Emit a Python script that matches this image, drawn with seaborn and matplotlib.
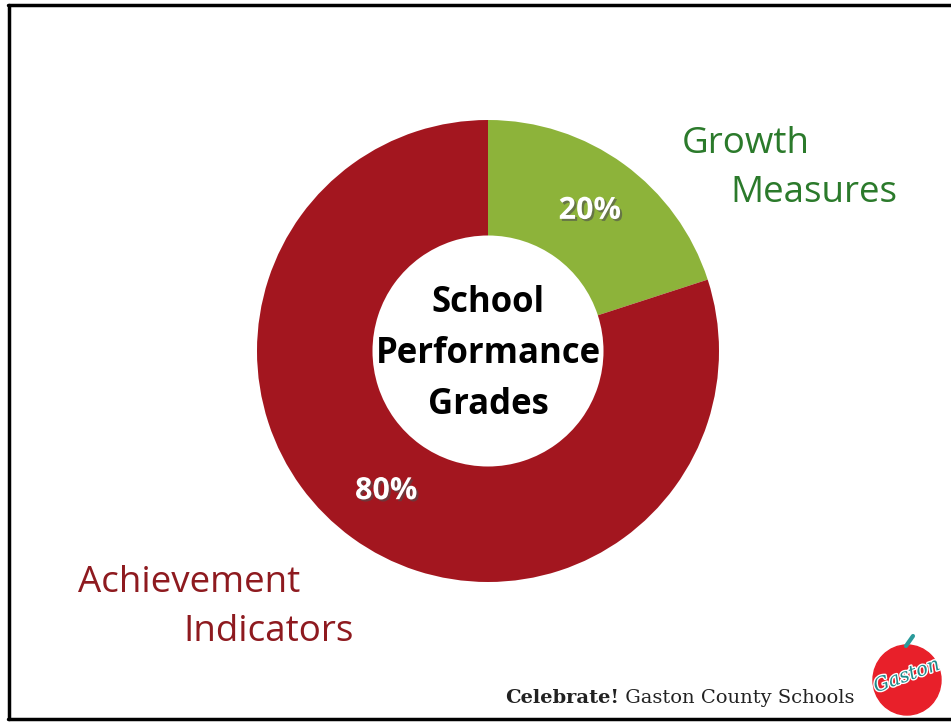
import matplotlib
matplotlib.use("Agg")
import matplotlib.pyplot as plt
import matplotlib.patheffects as pe
from matplotlib.patches import Ellipse
import seaborn as sns

# the data
categories   = ["Growth Measures", "Achievement Indicators"]
shares       = [20, 80]
center_lines = ["School", "Performance", "Grades"]
footer_bold  = "Celebrate!"
footer_rest  = " Gaston County Schools"

red   = "#A3161F"
green = "#8DB33A"
sns.set_theme(style="white")
palette = sns.color_palette([green, red])

plt.rcParams["font.family"] = ["Open Sans", "DejaVu Sans"]

W, H = 951, 723
fig = plt.figure(figsize=(W / 100, H / 100), dpi=100)
ax = fig.add_axes([0, 0, 1, 1])

# donut, drawn clockwise from 12 o'clock
cx, cy, r = 488, H - 351, 231
wedges, texts, pcts = ax.pie(
    shares,
    colors=palette,
    startangle=90,
    counterclock=False,
    center=(cx, cy),
    radius=r,
    autopct=lambda p: f"{p:.0f}%",
    pctdistance=0.75,
    wedgeprops=dict(width=r * 0.5, linewidth=0),
    textprops=dict(color="white", fontsize=22, fontweight="bold"),
    frame=True,
)
ax.set_xlim(0, W)
ax.set_ylim(0, H)
ax.set_aspect("equal")
ax.axis("off")
for t in pcts:
    t.set_path_effects([pe.withSimplePatchShadow(offset=(1.5, -1.5), alpha=0.6)])

# title in the hole, one line at a time
for i, line in enumerate(center_lines):
    ax.text(cx, H - 312 - 51 * (i - 0), line, ha="center", va="baseline",
            fontsize=25, fontweight="bold", color="black")

# category labels
ax.text(682, H - 153, "Growth", fontsize=26.5, color="#2B7A2B", ha="left", va="baseline")
ax.text(730, H - 202, "Measures", fontsize=26.5, color="#2B7A2B", ha="left", va="baseline")
ax.text(78, H - 592, "Achievement", fontsize=26.5, color="#8E1A1F", ha="left", va="baseline")
ax.text(183, H - 641, "Indicators", fontsize=26.5, color="#8E1A1F", ha="left", va="baseline")

# footer
ft = ax.text(505, H - 703, footer_bold, fontsize=14, fontweight="bold",
             family="DejaVu Serif", color="#222222", ha="left", va="baseline")
fig.canvas.draw()
bb = ft.get_window_extent().transformed(ax.transData.inverted())
ax.text(bb.x1, H - 703, footer_rest, fontsize=14, family="DejaVu Serif",
        color="#222222", ha="left", va="baseline")

# apple logo
ax.add_patch(Ellipse((907, H - 680), 68, 70, color="#E8202A"))
ax.plot([906, 913], [H - 646, H - 636], color="#2A9A9A", lw=3)
ax.text(907, H - 676, "Gaston", fontsize=14, fontstyle="italic", color="#1E8C8C",
        rotation=20, ha="center", va="center", family="DejaVu Serif",
        path_effects=[pe.withStroke(linewidth=2, foreground="white")])

# slide border (top, left, bottom)
ax.plot([8, W], [H - 5, H - 5], color="black", lw=2.5)
ax.plot([9, 9], [H - 5, H - 719], color="black", lw=2.5)
ax.plot([8, W], [H - 719, H - 719], color="black", lw=2.5)

fig.savefig("out.png", dpi=100)
